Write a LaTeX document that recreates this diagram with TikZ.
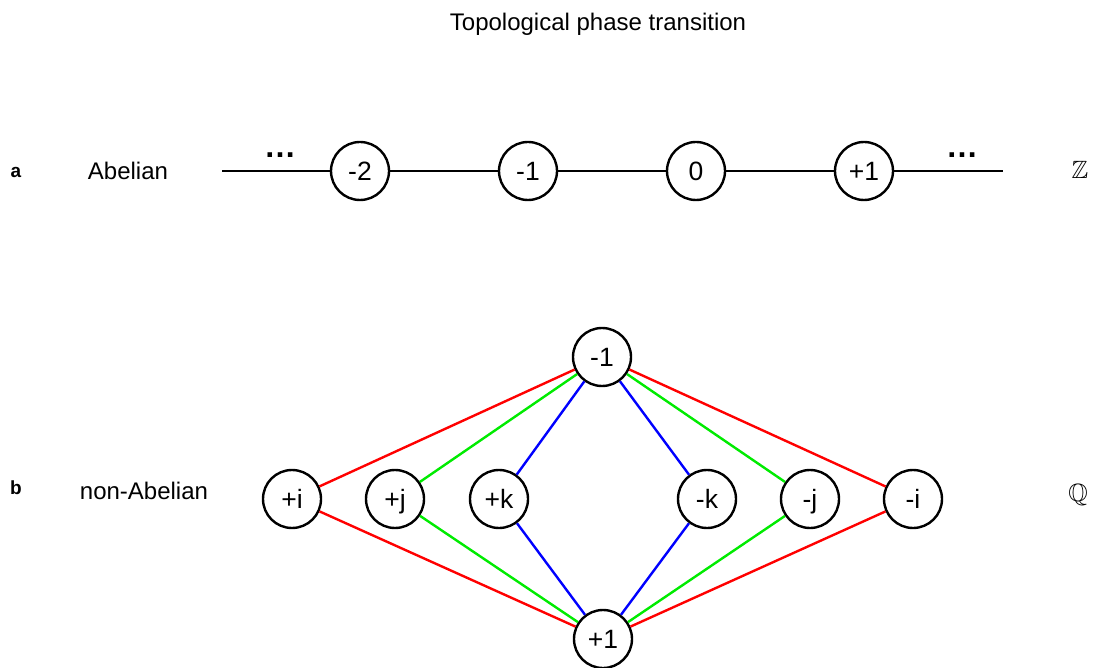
\documentclass[tikz,border=0pt]{standalone}
\usepackage{fontspec}
\usepackage{amssymb}
\setmainfont{Liberation Sans}
\definecolor{qred}{RGB}{255,0,0}
\definecolor{qgreen}{RGB}{0,235,0}
\definecolor{qblue}{RGB}{0,0,255}
\begin{document}
\begin{tikzpicture}[x=1pt,y=-1pt,
  grp/.style={circle,draw,line width=2.4pt,minimum size=58pt,inner sep=0pt,
    text height=19pt,text depth=0pt,
    font=\fontsize{26.5}{30}\selectfont},
  lbl/.style={font=\fontsize{24}{28}\selectfont,anchor=base,inner sep=0pt},
  tag/.style={font=\bfseries\fontsize{19}{22}\selectfont,anchor=base,inner sep=0pt},
  dots/.style={font=\bfseries\fontsize{32}{36}\selectfont,anchor=base,inner sep=0pt},
  setname/.style={font=\fontsize{25}{30}\selectfont,inner sep=0pt},
  chain/.style={line width=2.4pt},
  redge/.style={draw=qred,line width=2.4pt},
  gedge/.style={draw=qgreen,line width=2.4pt},
  bedge/.style={draw=qblue,line width=2.4pt}]
\useasboundingbox (0,0) rectangle (1098,668);

% title
\node[lbl] (title) at (598,31) {Topological phase transition};

% ---- row a: the integers
\node[tag] (taga) at (16,178) {a};
\node[lbl] (abel) at (128,180) {Abelian};
\coordinate (aL) at (222,171);
\coordinate (aR) at (1003,171);
\node[grp] (zm2) at (360,171) {-2};
\node[grp] (zm1) at (528,171) {-1};
\node[grp] (z0)  at (696,171) {0};
\node[grp] (zp1) at (864,171) {+1};
\node[dots] (dl) at (280,158) {…};
\node[dots] (dr) at (962,158) {…};
\node[setname] (Z) at (1080,170) {$\mathbb{Z}$};
\draw[chain] (aL) -- (zm2) -- (zm1) -- (z0) -- (zp1) -- (aR);

% ---- row b: the quaternion group
\node[tag] (tagb) at (16,494) {b};
\node[lbl] (nabel) at (144,499) {non-Abelian};
\node[grp] (qm1) at (602,357) {-1};
\node[grp] (qp1) at (603,639) {+1};
\node[grp] (pi) at (292,499) {+i};
\node[grp] (pj) at (395,499) {+j};
\node[grp] (pk) at (499,499) {+k};
\node[grp] (mk) at (707,499) {-k};
\node[grp] (mj) at (810,499) {-j};
\node[grp] (mi) at (913,499) {-i};
\node[setname] (Q) at (1078,495) {$\mathbb{Q}$};

\foreach \v in {qm1,qp1}{
  \draw[redge] (\v) -- (pi);
  \draw[redge] (\v) -- (mi);
  \draw[gedge] (\v) -- (pj);
  \draw[gedge] (\v) -- (mj);
  \draw[bedge] (\v) -- (pk);
  \draw[bedge] (\v) -- (mk);
}
\end{tikzpicture}
\end{document}
